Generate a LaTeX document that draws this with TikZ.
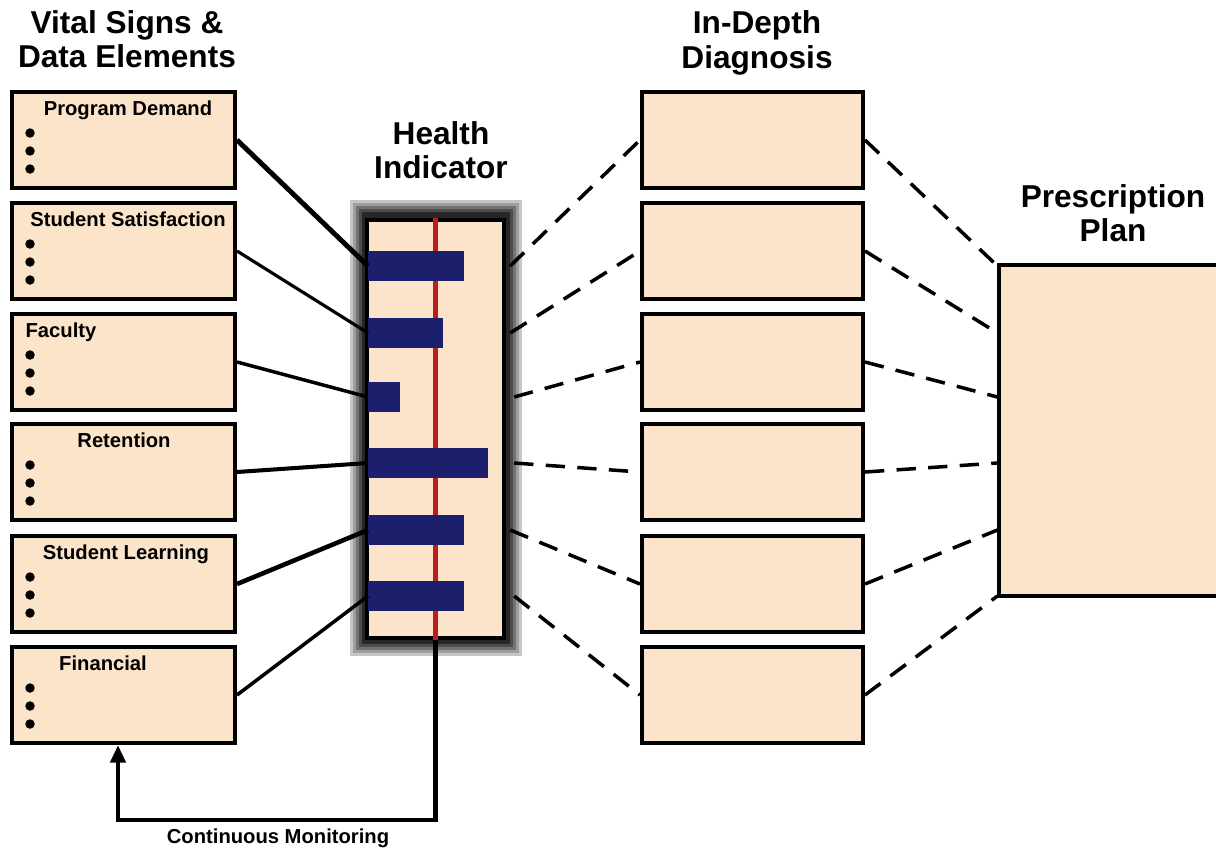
\documentclass[tikz,border=0pt]{standalone}
\usepackage{fontspec}
\setmainfont{Liberation Sans}
\usetikzlibrary{calc}
\usetikzlibrary{arrows.meta}
\definecolor{peach}{HTML}{FCE4CA}
\definecolor{barblue}{HTML}{1B1F6C}
\definecolor{meterred}{HTML}{B81E1E}
\tikzset{
  sign/.style={draw, line width=2.3pt, fill=peach, minimum width=4.46cm, minimum height=1.92cm, inner sep=0pt},
  diag/.style={sign, minimum width=4.42cm},
  heading/.style={align=center, font=\fontsize{18}{19.5}\selectfont\bfseries, inner sep=0pt},
  signlabel/.style={anchor=base, font=\fontsize{11.5}{12}\selectfont\bfseries, inner sep=0pt},
  bar/.style={fill=barblue, anchor=west, minimum height=0.6cm, inner sep=0pt},
  dlink/.style={line width=2pt, dash pattern=on 11pt off 7pt},
}
\newcommand{\signbox}[4]{ \node[sign] (#1) at (123.5,#2) {};
  \node[signlabel] (#1l) at (#3,#2-25) {#4};
  \fill (30,#2-7) circle (2.7pt);
  \fill (30,#2+11) circle (2.7pt);
  \fill (30,#2+29) circle (2.7pt);}
\newcommand{\meterbar}[3]{\node[bar, minimum width=#3cm] (#1) at (368,#2) {};}

\begin{document}
\begin{tikzpicture}[x=0.02cm,y=-0.02cm]
        \path[use as bounding box, clip] (0,0) rectangle (1216,849);

        % headings
        \node[heading] (vitalhead) at (127,39) {Vital Signs \&\\Data Elements};
        \node[heading] (meterhead) at (441,150) {Health\\Indicator};
        \node[heading] (diaghead) at (757,43) {In-Depth\\Diagnosis};
        \node[heading] (planhead) at (1113,213) {Prescription\\Plan};

        % vital signs
        \signbox{v1}{140}{128}{Program Demand}
        \signbox{v2}{251}{128}{Student Satisfaction}
        \signbox{v3}{362}{61}{Faculty}
        \signbox{v4}{472}{124}{Retention}
        \signbox{v5}{584}{126}{Student Learning}
        \signbox{v6}{695}{103}{Financial}

        % health indicator
        \foreach \g/\i in {22/0,38/3,55/6,70/9,85/12}
            \fill[black!\g] (350+\i,200+\i) rectangle (522-\i,656-\i);
        \node[draw, line width=2.5pt, fill=peach, minimum width=2.74cm, minimum height=8.36cm, inner sep=0pt] (meter) at (435.5,429) {};
        \draw[meterred, line width=3.2pt] (meter.north) -- (meter.south);

        \meterbar{b1}{266}{1.92}
        \meterbar{b2}{333}{1.5}
        \meterbar{b3}{397}{0.64}
        \meterbar{b4}{463}{2.4}
        \meterbar{b5}{530}{1.92}
        \meterbar{b6}{596}{1.92}

        % vital signs to indicator
        \draw[line width=2.8pt] (v1.east) -- (b1.west);
        \draw[line width=1.8pt] (v2.east) -- (b2.west);
        \draw[line width=2pt] (v3.east) -- (b3.west);
        \draw[line width=2.3pt] (v4.east) -- (b4.west);
        \draw[line width=2.6pt] (v5.east) -- (b5.west);
        \draw[line width=2pt] (v6.east) -- (b6.west);

        % diagnosis
        \node[diag] (d1) at (752.5,140) {};
        \node[diag] (d2) at (752.5,251) {};
        \node[diag] (d3) at (752.5,362) {};
        \node[diag] (d4) at (752.5,472) {};
        \node[diag] (d5) at (752.5,584) {};
        \node[diag] (d6) at (752.5,695) {};

        % prescription plan
        \node[draw, line width=1.8pt, fill=peach, minimum width=4.62cm, minimum height=6.62cm, inner sep=0pt] (plan) at (1114.5,430.5) {};

        % dashed links
        \draw[dlink] ($(meter.east |- b1)+(4,0)$) -- (d1.west);
        \draw[dlink] ($(meter.east |- b2)+(4,0)$) -- (d2.west);
        \draw[dlink] ($(meter.east |- b3)+(8,0)$) -- (d3.west);
        \draw[dlink] ($(meter.east |- b4)+(8,0)$) -- (d4.west);
        \draw[dlink] ($(meter.east |- b5)+(4,0)$) -- (d5.west);
        \draw[dlink] ($(meter.east |- b6)+(8,0)$) -- (d6.west);

        \draw[dlink] (d1.east) -- (plan.west |- b1);
        \draw[dlink] (d2.east) -- (plan.west |- b2);
        \draw[dlink] (d3.east) -- (plan.west |- b3);
        \draw[dlink] (d4.east) -- (plan.west |- b4);
        \draw[dlink] (d5.east) -- (plan.west |- b5);
        \draw[dlink] (d6.east) -- (plan.west |- b6);

        % monitoring loop
        \coordinate (loop) at (118,820);
        \draw[line width=2.6pt, -{Triangle[length=10pt,width=8.5pt]}] (meter.south) -- (meter.south |- loop) -- (loop) -- (v6.south -| loop);
        \node[font=\fontsize{11.5}{12}\selectfont\bfseries, inner sep=0pt] (monlabel) at (278,838) {Continuous Monitoring};

    \end{tikzpicture}
\end{document}
